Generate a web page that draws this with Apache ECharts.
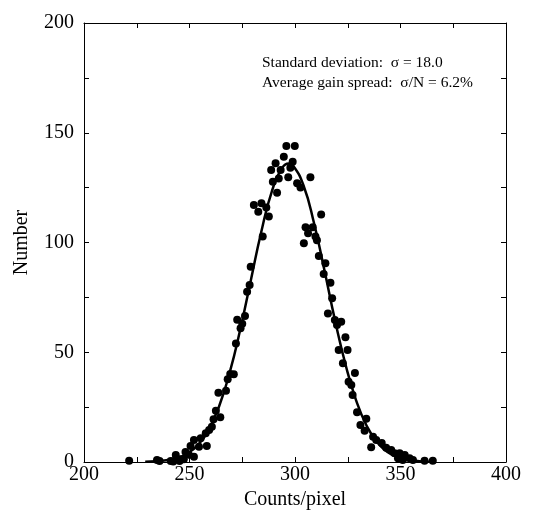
<!DOCTYPE html>
<html>
<head>
<meta charset="utf-8">
<script src="https://cdn.jsdelivr.net/npm/echarts@6/dist/echarts.min.js"></script>
<style>
  html, body { margin: 0; padding: 0; background: #fff; }
  #chart { width: 539px; height: 524px; }
</style>
</head>
<body>
<div id="chart"></div>
<script>
// Histogram of per-pixel counts (counts/pixel vs number of pixels)
const countsX = [
  221.4, 234.6, 235.8, 241.1, 242.3, 243.5, 245.3, 245.8, 247.3, 248.1,
  249.7, 250.5, 252.1, 252.1, 254.5, 255.3, 257.7, 258.2, 259.3, 260.6,
  261.4, 262.5, 263.7, 264.6, 267.3, 268.1, 269.3, 271.0, 272.0, 272.6,
  274.2, 275.0, 276.3, 277.3, 278.5, 279.0, 280.5, 282.6, 284.1, 284.7,
  286.4, 287.6, 288.7, 289.5, 290.8, 291.5, 292.3, 293.2, 294.7, 295.9,
  296.8, 297.8, 298.9, 299.9, 301.0, 302.6, 304.2, 305.0, 306.2, 307.3,
  308.4, 309.7, 310.4, 311.3, 312.4, 313.6, 314.4, 315.6, 316.8, 317.6,
  318.9, 319.9, 320.7, 321.9, 322.7, 323.9, 324.9, 325.4, 326.7, 327.3,
  328.4, 329.4, 331.0, 333.0, 333.8, 336.1, 337.0, 338.5, 341.1, 343.2,
  345.6, 347.2, 348.8, 349.6, 351.1, 352.0, 354.3, 355.9, 361.4, 365.3
];
const pixelCount = [
  0.6, 0.9, 0.5, 0.5, 0.2, 3.2, 0.5, 1.3, 1.3, 4.5,
  3.3, 7.3, 2.4, 10.0, 7.0, 10.8, 13.1, 7.3, 14.6, 16.1,
  19.5, 23.4, 31.6, 20.4, 32.5, 37.7, 40.1, 40.0, 54.0, 64.8,
  60.9, 63.0, 66.5, 77.6, 80.6, 89.0, 117.1, 114.0, 117.9, 102.7,
  116.0, 111.8, 133.0, 127.7, 136.1, 122.7, 129.2, 133.0, 139.1, 144.0,
  129.7, 134.0, 136.8, 144.0, 127.0, 125.1, 99.7, 106.9, 104.2, 129.7,
  106.9, 102.7, 101.0, 93.8, 112.8, 85.6, 90.5, 67.7, 81.7, 74.6,
  64.7, 62.4, 51.0, 63.9, 45.0, 56.8, 51.0, 36.6, 35.1, 30.5,
  40.6, 22.7, 16.9, 14.2, 19.7, 6.7, 11.5, 10.0, 8.6, 6.5,
  5.5, 4.0, 1.7, 4.0, 0.9, 3.2, 1.7, 0.9, 0.6, 0.6
];

// Gaussian fit curve sampled every 5 counts/pixel
const fitX = [229, 234, 239, 244, 249, 254, 259, 264, 269, 274, 279, 284, 289, 294, 297,
              299, 304, 309, 314, 319, 324, 329, 334, 339, 344, 349, 354, 359, 364];
const fitY = [0.1, 0.3, 0.8, 1.8, 3.9, 7.8, 14.6, 25.3, 40.6, 60.1, 82.5, 104.8, 123.2, 134.1, 136.0,
              135.2, 126.1, 108.9, 87.1, 64.4, 44.2, 28.0, 16.4, 8.9, 4.5, 2.1, 0.9, 0.4, 0.1];

const xTicks = [200, 250, 300, 350, 400];
const yTicks = [0, 50, 100, 150, 200];

const noteLines = [
  'Standard deviation:  \u03c3 = 18.0',
  'Average gain spread:  \u03c3/N = 6.2%'
];

const FONT = "'Liberation Serif', 'Times New Roman', serif";

function axisBase(extra) {
  return Object.assign({
    type: 'value',
    interval: 25,
    splitLine: { show: false },
    axisLine: { show: true, onZero: false, lineStyle: { color: '#000', width: 1 } },
    axisTick: { show: true, inside: true, length: 5, lineStyle: { color: '#000', width: 1 } },
    minorTick: { show: false }
  }, extra);
}

const chart = echarts.init(document.getElementById('chart'), null, { renderer: 'canvas' });

chart.setOption({
  animation: false,
  backgroundColor: '#fff',
  grid: { left: 84, right: 33, top: 23, bottom: 62, containLabel: false },
  xAxis: [
    axisBase({
      min: 200, max: 400, position: 'bottom',
      name: 'Counts/pixel', nameLocation: 'middle', nameGap: 25,
      nameTextStyle: { fontFamily: FONT, fontSize: 20, color: '#000' },
      axisLabel: {
        margin: 3, fontFamily: FONT, fontSize: 20, color: '#000',
        formatter: v => (xTicks.indexOf(v) >= 0 ? String(v) : '')
      }
    }),
    axisBase({ min: 200, max: 400, position: 'top', axisLabel: { show: false } })
  ],
  yAxis: [
    axisBase({
      min: 0, max: 200, position: 'left',
      name: 'Number', nameLocation: 'middle', nameGap: 52,
      nameTextStyle: { fontFamily: FONT, fontSize: 20, color: '#000' },
      axisLabel: {
        margin: 10, fontFamily: FONT, fontSize: 20, color: '#000',
        formatter: v => (yTicks.indexOf(v) >= 0 ? String(v) : '')
      }
    }),
    axisBase({ min: 0, max: 200, position: 'right', axisLabel: { show: false } })
  ],
  graphic: [
    {
      type: 'text', left: 262, top: 55,
      style: { text: noteLines[0], font: '15.5px ' + FONT, fill: '#000' }
    },
    {
      type: 'text', left: 262, top: 75,
      style: { text: noteLines[1], font: '15.5px ' + FONT, fill: '#000' }
    }
  ],
  series: [
    {
      type: 'line',
      xAxisIndex: 0, yAxisIndex: 0,
      data: fitX.map((x, i) => [x, fitY[i]]),
      smooth: true,
      showSymbol: false,
      lineStyle: { color: '#000', width: 2.5 },
      z: 2
    },
    {
      type: 'scatter',
      xAxisIndex: 0, yAxisIndex: 0,
      data: countsX.map((x, i) => [x, pixelCount[i]]),
      symbol: 'circle',
      symbolSize: 8,
      itemStyle: { color: '#000', opacity: 1 },
      z: 3
    }
  ]
});
</script>
</body>
</html>
